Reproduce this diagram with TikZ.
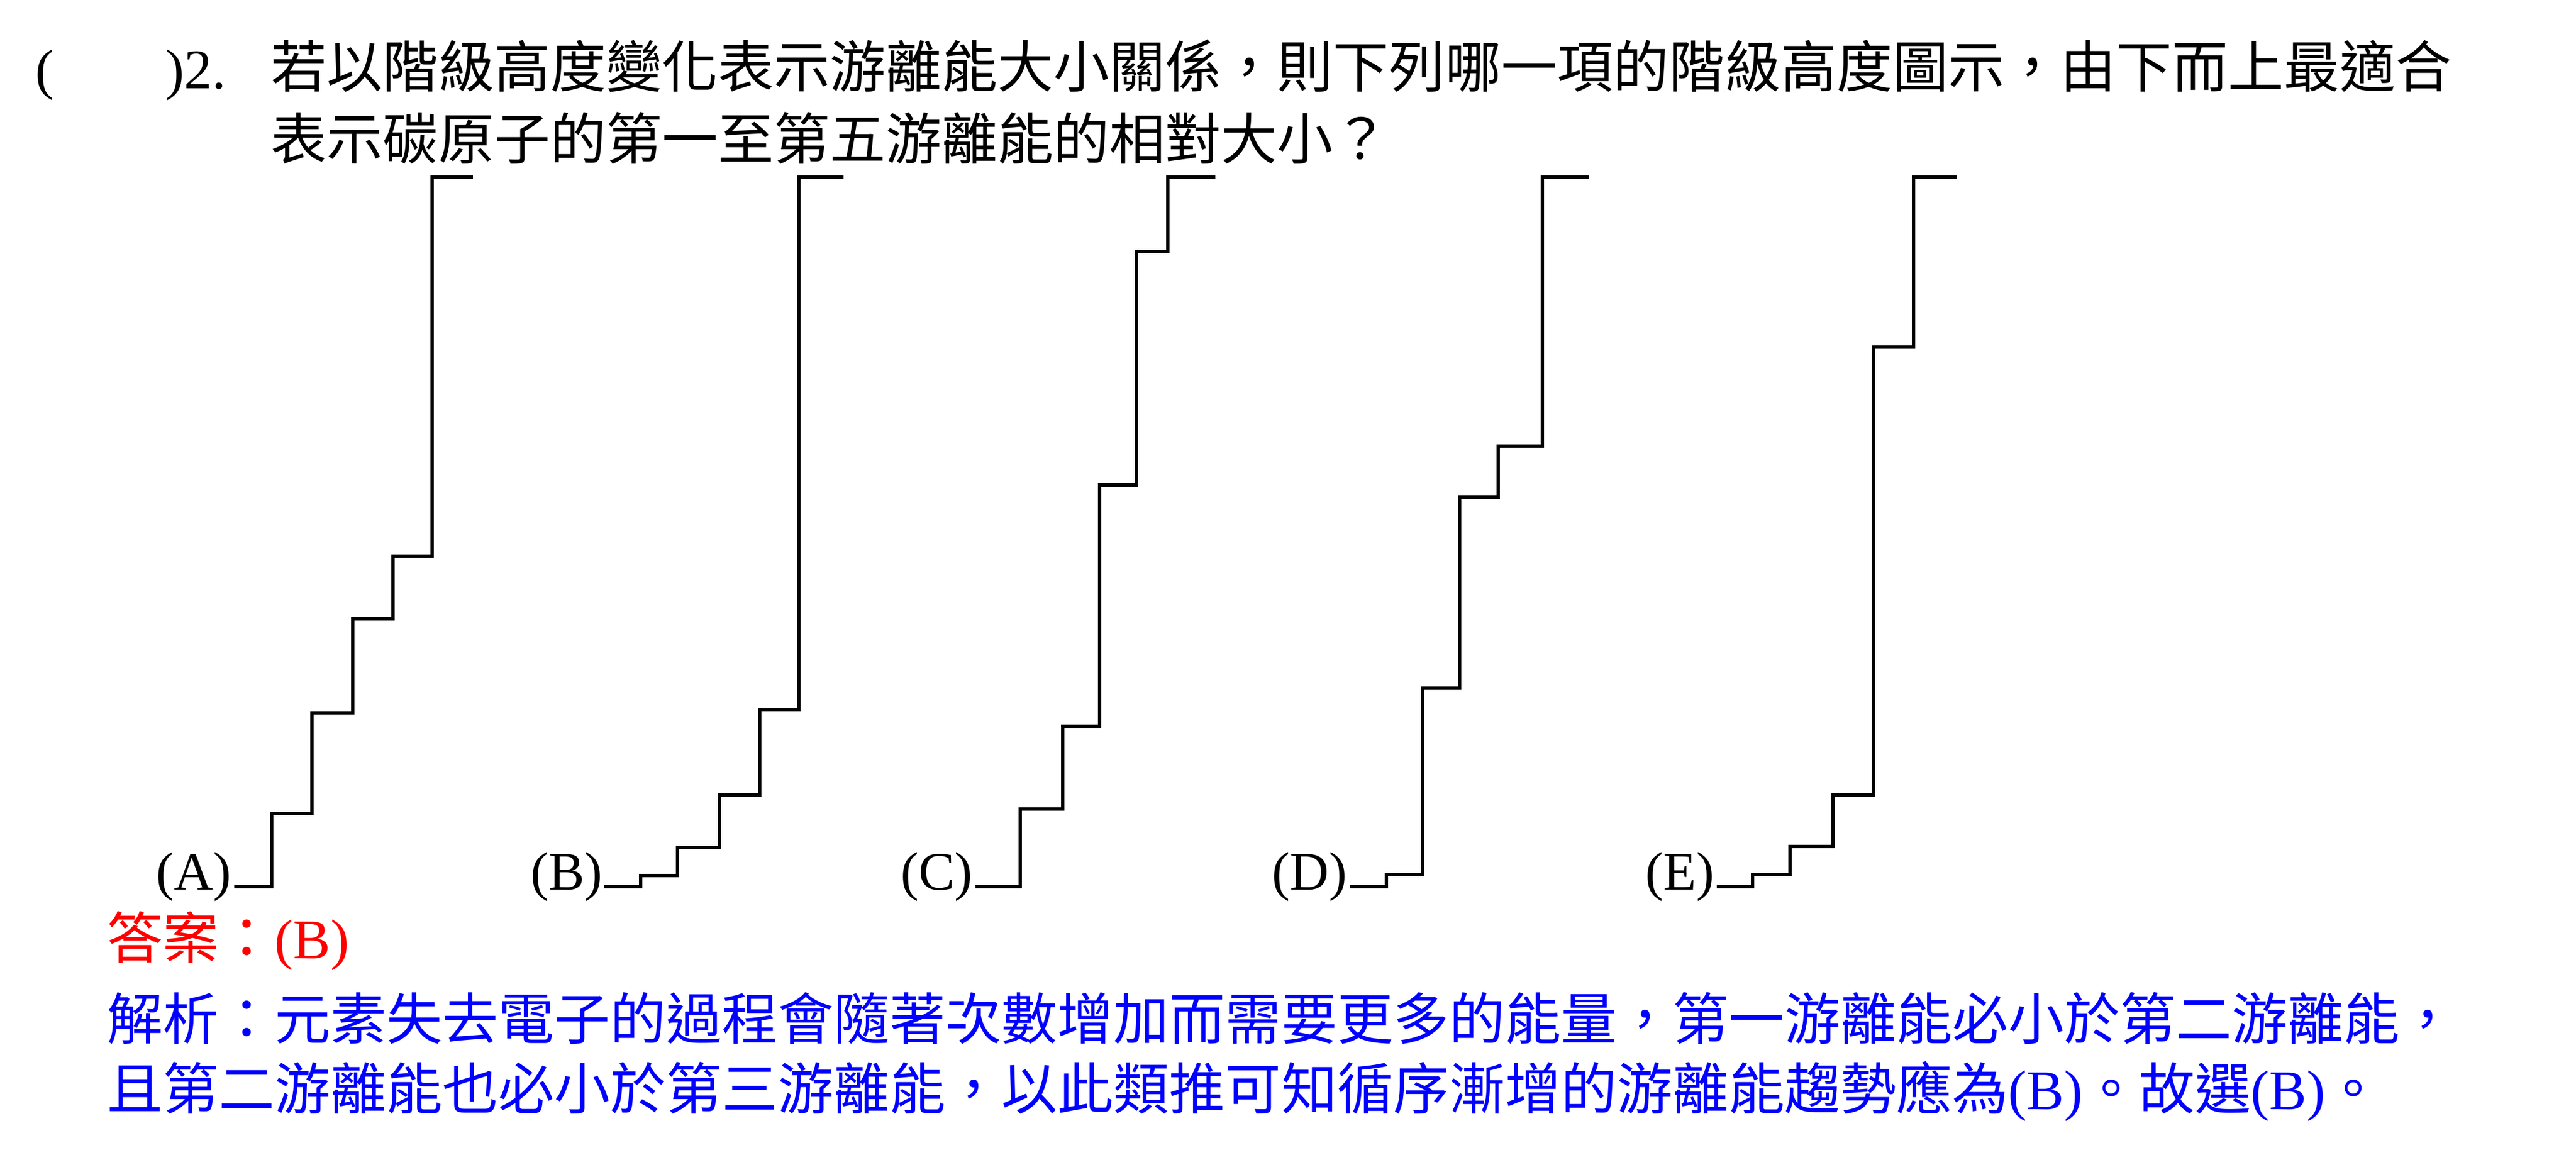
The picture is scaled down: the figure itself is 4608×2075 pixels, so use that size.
\documentclass[tikz,border=0pt]{standalone}
\usepackage{fontspec}
\setmainfont{Liberation Serif}
\newfontfamily\cjk{Noto Sans CJK TC}
\definecolor{ansred}{RGB}{255,0,0}
\definecolor{expblue}{RGB}{0,0,255}
\newcommand\Lat[1]{{\fontsize{28.45pt}{34pt}\selectfont #1}}
\newcommand\Lab[1]{{\fontsize{27.5pt}{32pt}\selectfont #1}}
\begin{document}
\begin{tikzpicture}[x=0.01cm, y=-0.01cm,
  txt/.style={inner sep=0pt, outer sep=0pt, anchor=base west, font=\fontsize{28.45pt}{34pt}\selectfont},
  lab/.style={inner sep=0pt, outer sep=0pt, anchor=base east},
  stair/.style={line width=1.85pt, line join=miter, line cap=butt}]
\fill[white] (0,0) rectangle (4608,2075);
\useasboundingbox (0,0) rectangle (4608,2075);

% question
\node[txt] (paren) at (64,158) {\Lat{(}};
\node[txt] (num) at (296,158) {\Lat{)2.}};
\node[txt] (q1) at (484,156) {\cjk 若以階級高度變化表示游離能大小關係，則下列哪一項的階級高度圖示，由下而上最適合};
\node[txt] (q2) at (484,285) {\cjk 表示碳原子的第一至第五游離能的相對大小？};

% staircases
\draw[stair] (419,1587) -| (486,1456) -| (558,1276) -| (631,1107) -| (703,995) -| (773,317) -- (846,317);
\draw[stair] (1081,1587) -| (1146,1567) -| (1212,1517) -| (1287,1423) -| (1359,1270) -| (1429,317) -- (1509,317);
\draw[stair] (1745,1587) -| (1825,1448) -| (1901,1300) -| (1967,868) -| (2033,450) -| (2089,317) -- (2174,317);
\draw[stair] (2415,1587) -| (2480,1565) -| (2545,1231) -| (2611,890) -| (2680,798) -| (2759,317) -- (2842,317);
\draw[stair] (3071,1587) -| (3135,1565) -| (3202,1515) -| (3279,1423) -| (3351,621) -| (3423,317) -- (3500,317);

% labels
\node[lab] (la) at (414,1592) {\Lab{(A)}};
\node[lab] (lb) at (1078,1592) {\Lab{(B)}};
\node[lab] (lc) at (1740,1592) {\Lab{(C)}};
\node[lab] (ld) at (2410,1592) {\Lab{(D)}};
\node[lab] (le) at (3067,1592) {\Lab{(E)}};

% answer
\node[txt, text=ansred] (ans) at (191,1715) {{\cjk 答案：}\Lat{(B)}};
\node[txt, text=expblue] (e1) at (191,1860) {\cjk 解析：元素失去電子的過程會隨著次數增加而需要更多的能量，第一游離能必小於第二游離能，};
\node[txt, text=expblue] (e2) at (191,1985) {{\cjk 且第二游離能也必小於第三游離能，以此類推可知循序漸增的游離能趨勢應為}\Lat{(B)}{\cjk 。故選}\Lat{(B)}{\cjk 。}};
\end{tikzpicture}
\end{document}
